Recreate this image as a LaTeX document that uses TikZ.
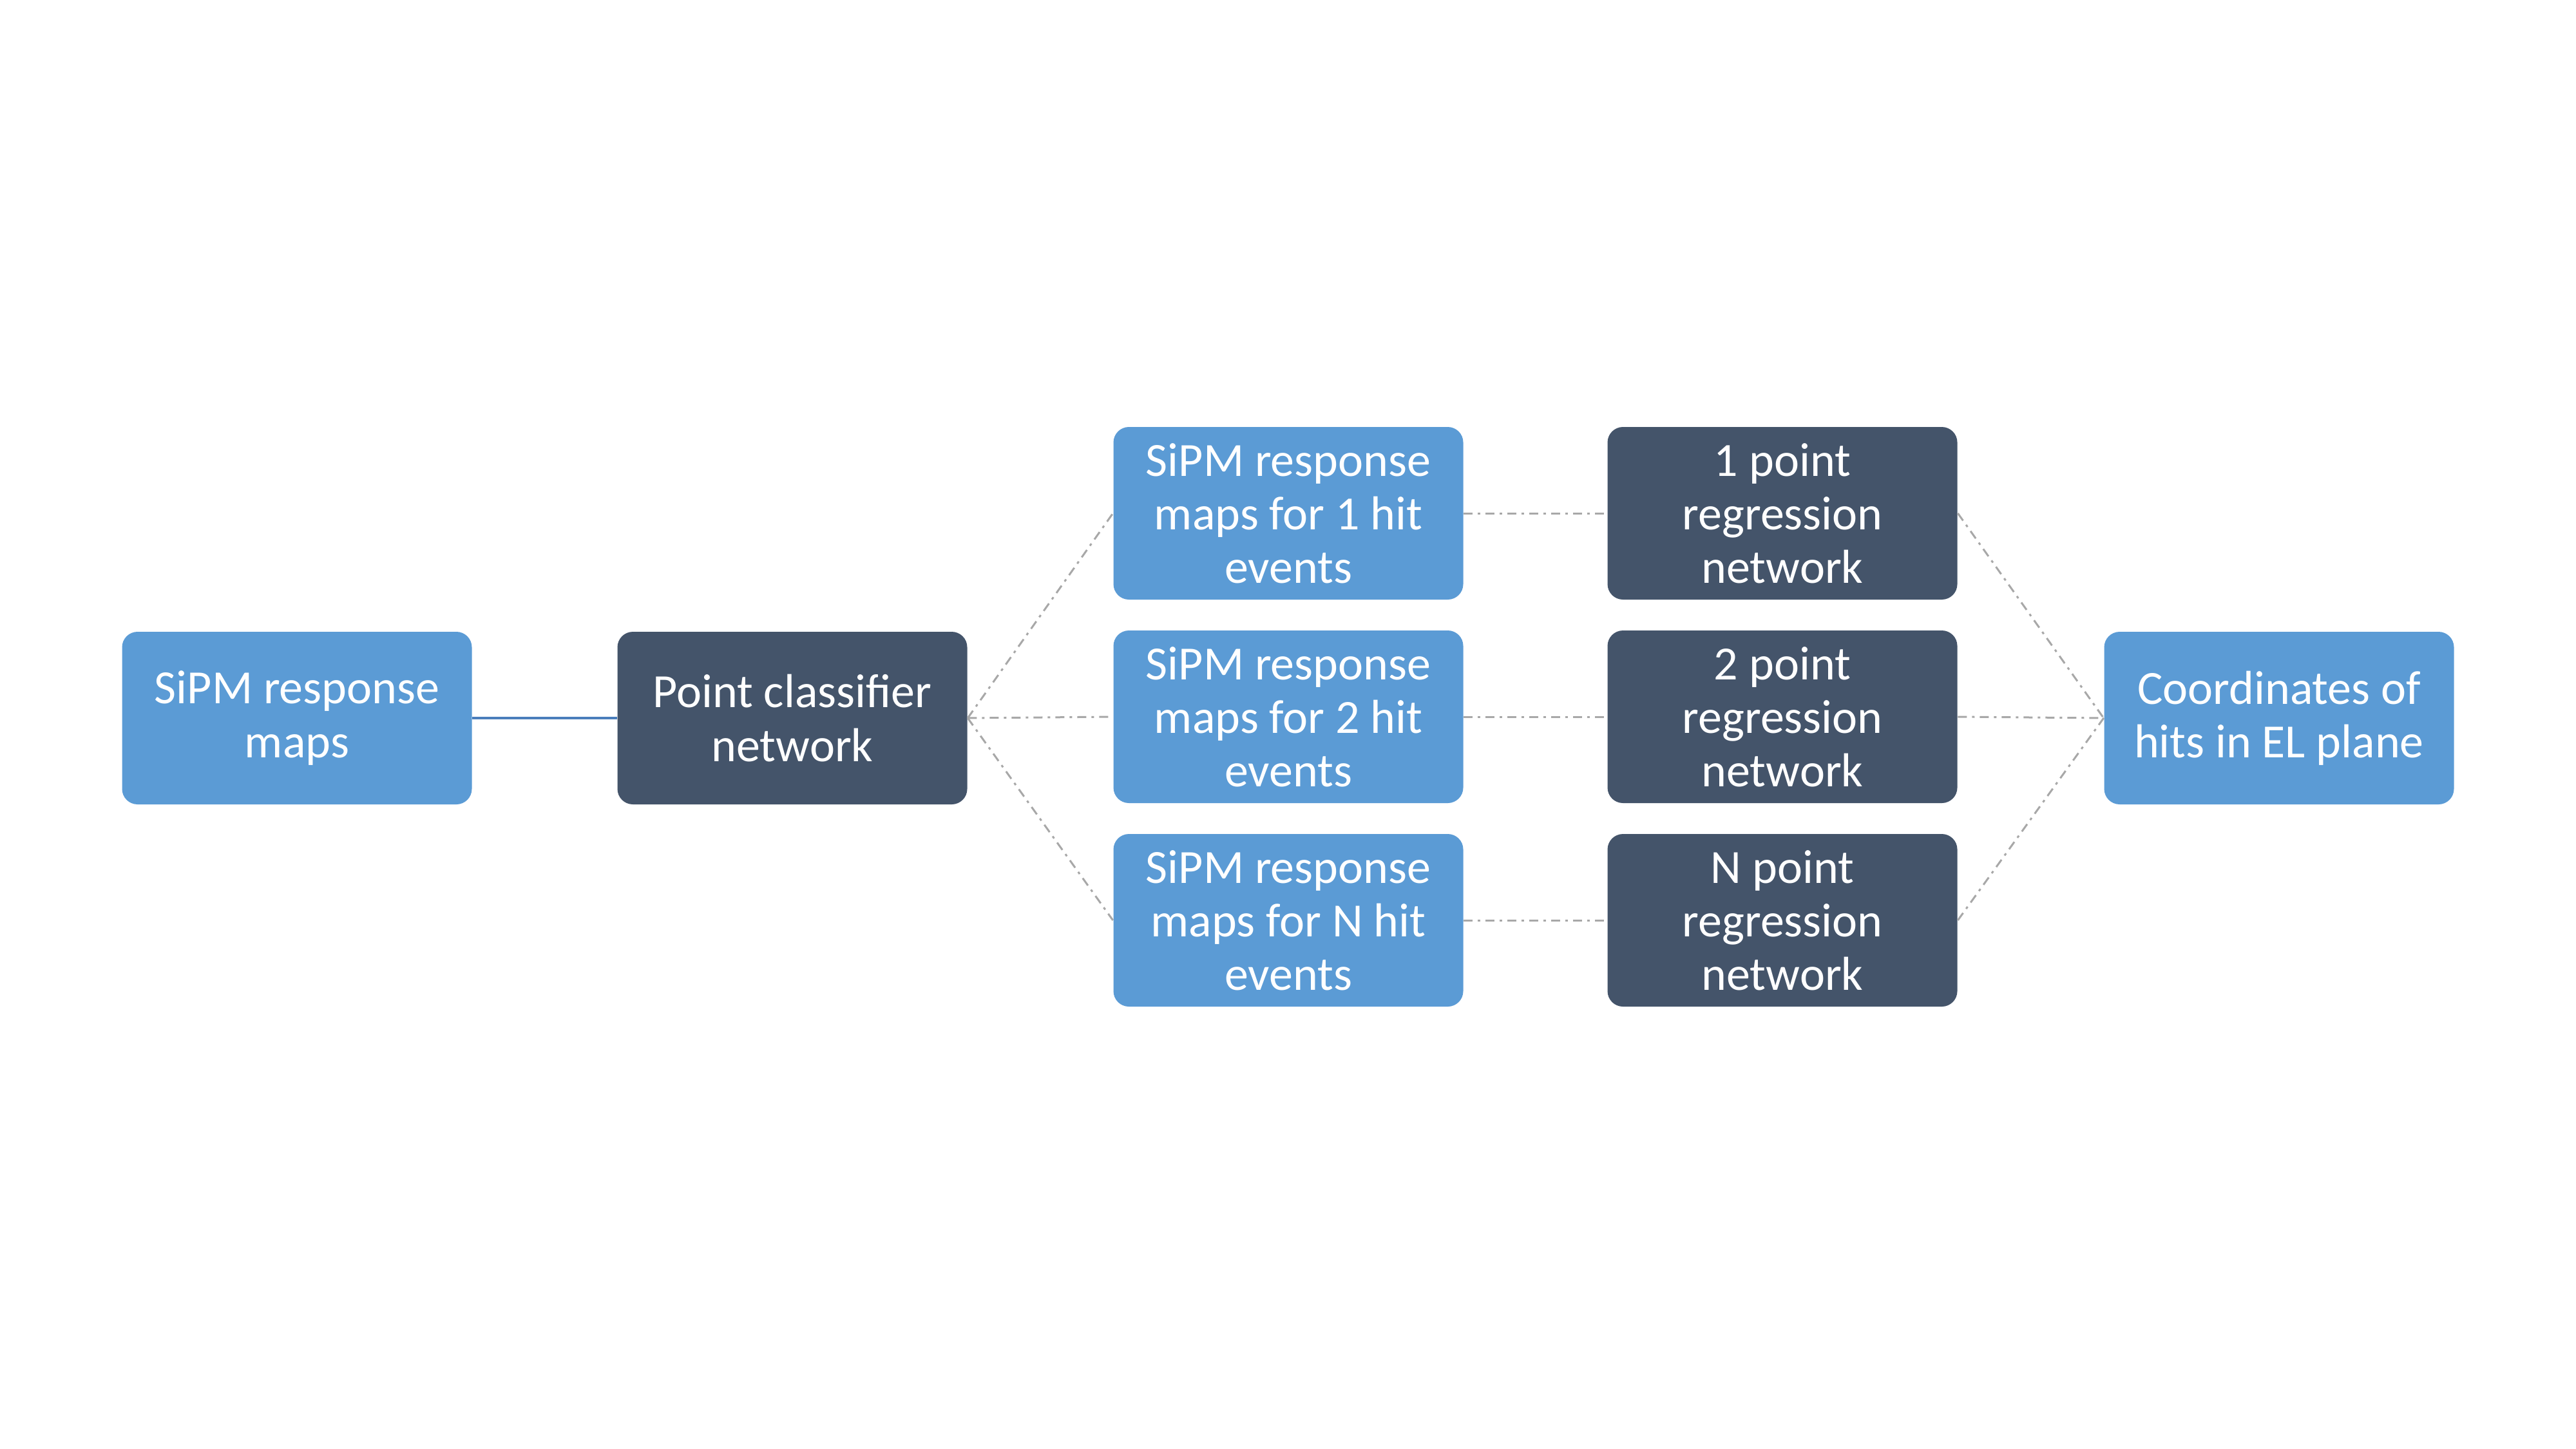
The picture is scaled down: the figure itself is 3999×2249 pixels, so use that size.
\documentclass[tikz,border=0pt]{standalone}
\usepackage{fontspec}
\setmainfont{Carlito}
\begin{document}
\begin{tikzpicture}[x=0.25pt,y=-0.25pt,
  box/.style={rounded corners=6pt, minimum width=135.75pt, minimum height=67pt, inner sep=0pt,
    align=center, text=white, font=\fontsize{18.5}{20.8}\selectfont},
  lightbox/.style={box, fill=lblue},
  darkbox/.style={box, fill=dslate},
  dd/.style={draw=lgray, line width=0.75pt, dash pattern=on 3.5pt off 2pt on 1pt off 2pt}
]
\definecolor{lblue}{HTML}{5B9BD5}
\definecolor{dslate}{HTML}{44546A}
\definecolor{lgray}{HTML}{A8A8A8}
\definecolor{sblue}{HTML}{4A7EBB}
\useasboundingbox (0,0) rectangle (3999,2249);
\node[lightbox] (in) at (461,1115) {SiPM response\\maps};
\node[darkbox] (cls) at (1230,1115) {Point classifier\\network};
\node[lightbox] (m1) at (2000,797) {SiPM response\\maps for 1 hit\\events};
\node[lightbox] (m2) at (2000,1113) {SiPM response\\maps for 2 hit\\events};
\node[lightbox] (mN) at (2000,1429) {SiPM response\\maps for N hit\\events};
\node[darkbox] (r1) at (2767,797) {1 point\\regression\\network};
\node[darkbox] (r2) at (2767,1113) {2 point\\regression\\network};
\node[darkbox] (rN) at (2767,1429) {N point\\regression\\network};
\node[lightbox] (out) at (3538,1115) {Coordinates of\\hits in EL plane};
\draw[draw=sblue, line width=1pt] (in.east) -- (cls.west);
\foreach \m in {m1,m2,mN} \draw[dd] (cls.east) -- (\m.west);
\draw[dd] (m1.east) -- (r1.west);
\draw[dd] (m2.east) -- (r2.west);
\draw[dd] (mN.east) -- (rN.west);
\foreach \r in {r1,r2,rN} \draw[dd] (\r.east) -- (out.west);
\end{tikzpicture}
\end{document}
